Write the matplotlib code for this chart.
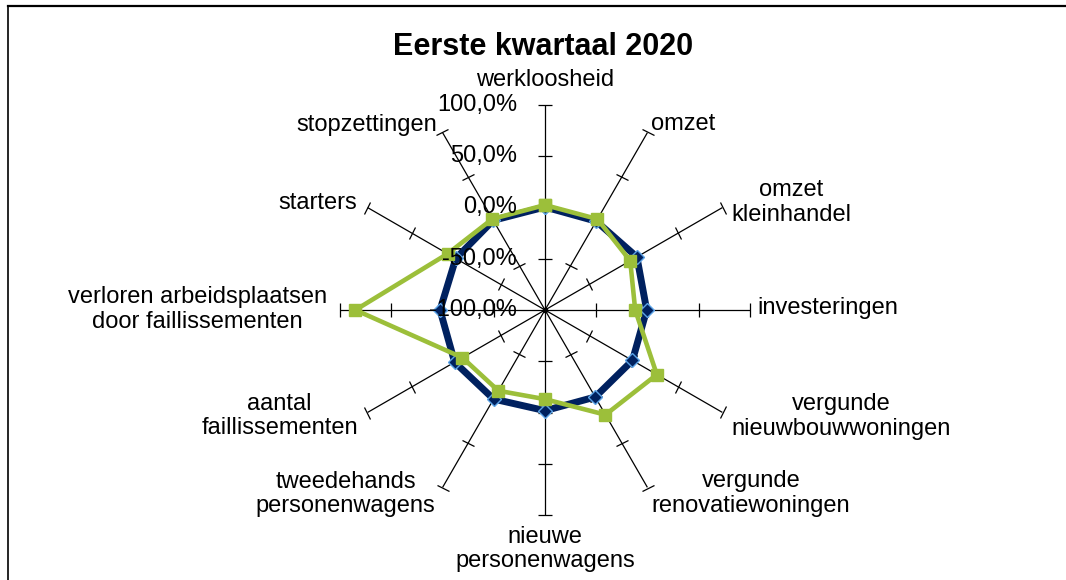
import numpy as np
import matplotlib
matplotlib.use("Agg")
import matplotlib.pyplot as plt
from matplotlib.markers import MarkerStyle
from matplotlib.transforms import Affine2D
from matplotlib.lines import Line2D

plt.rcParams['font.family'] = ['Liberation Sans', 'DejaVu Sans']

title = "Eerste kwartaal 2020"
categories = ["werkloosheid", "omzet", "omzet\nkleinhandel", "investeringen",
              "vergunde\nnieuwbouwwoningen", "vergunde\nrenovatiewoningen",
              "nieuwe\npersonenwagens", "tweedehands\npersonenwagens",
              "aantal\nfaillissementen", "verloren arbeidsplaatsen\ndoor faillissementen",
              "starters", "stopzettingen"]
series_blue = [0.5, 0.0, 3.5, -0.8, -1.5, -2.0, -1.8, 0.3, 1.8, 2.4, 0.5, 1.0]
series_green = [2.4, 2.4, -4.0, -12.0, 26.0, 18.0, -13.0, -9.0, -7.0, 85.0, 9.7, 2.6]
tick_values = [100, 50, 0, -50, -100]
tick_labels = ["100,0%", "50,0%", "0,0%", "-50,0%", "-100,0%"]

W, H = 1066, 580
fig = plt.figure(figsize=(W / 100, H / 100), dpi=100)
fig.patch.set_facecolor('white')

# axes: center (545,310), radius 205 px
cx, cy, R = 545, 310, 205
ax = fig.add_axes([(cx - R) / W, (H - cy - R) / H, 2 * R / W, 2 * R / H], projection='polar')
ax.set_theta_zero_location('N')
ax.set_theta_direction(-1)
ax.set_ylim(-100, 100)
ax.set_axis_off()

n = len(categories)
theta = np.arange(n) * 2 * np.pi / n

# spokes
for t in theta:
    ax.plot([t, t], [-100, 100], color='black', lw=0.9, solid_capstyle='butt', zorder=1)
    m = MarkerStyle('_', transform=Affine2D().rotate_deg(-np.degrees(t)))
    ax.plot([t] * 4, [-50, 0, 50, 100], linestyle='none', marker=m, markersize=9.5,
            markeredgewidth=0.9, color='black', zorder=1, clip_on=False)
ax.plot([0], [-100], marker='o', markersize=3, color='black', zorder=2)

# series
tc = np.append(theta, theta[0])
b = np.append(series_blue, series_blue[0])
g = np.append(series_green, series_green[0])
ax.plot(tc, b, color='#00215F', lw=5, marker='D', markersize=7,
        markerfacecolor='#00215F', markeredgecolor='#5BA3E6', markeredgewidth=1.0,
        zorder=3, clip_on=False)
ax.plot(tc, g, color='#9CBF3A', lw=3.3, marker='s', markersize=8.5,
        markerfacecolor='#9CBF3A', markeredgecolor='#9CBF3A',
        zorder=4, clip_on=False)

# radial tick labels on top axis
for v, lab in zip(tick_values, tick_labels):
    ax.annotate(lab, xy=(0, v), xytext=(-28 * 0.72, 0), textcoords='offset points',
                ha='right', va='center', fontsize=17, zorder=5)

# category labels: (dx, dy in pixels, ha)
offs = [(0, 25, 'center'), (3.5, 8.5, 'left'), (68.5, 5, 'center'), (7, 2, 'left'),
        (118.5, -4, 'center'), (103.5, -6, 'center'), (0, -34, 'center'),
        (-97, -6.5, 'center'), (-88, -3.5, 'center'), (-142.5, 0.5, 'center'),
        (-10.5, 4.5, 'right'), (-5.5, 7.5, 'right')]
for t, lab, (dx, dy, ha) in zip(theta, categories, offs):
    ax.annotate(lab, xy=(t, 100), xytext=(dx * 0.72, dy * 0.72), textcoords='offset points',
                ha=ha, va='center', multialignment='center', fontsize=17,
                linespacing=1.16, annotation_clip=False)

fig.text(543.5 / W, 1 - 47 / H, title, ha='center', va='center', fontsize=22,
         fontweight='bold')

# frame
fig.add_artist(Line2D([8 / W, 1], [1 - 6 / H, 1 - 6 / H], color='black', lw=1.6,
                      transform=fig.transFigure))
fig.add_artist(Line2D([8 / W, 8 / W], [1 - 6 / H, 0], color='black', lw=1.2,
                      transform=fig.transFigure))

fig.savefig('out.png', dpi=100)
